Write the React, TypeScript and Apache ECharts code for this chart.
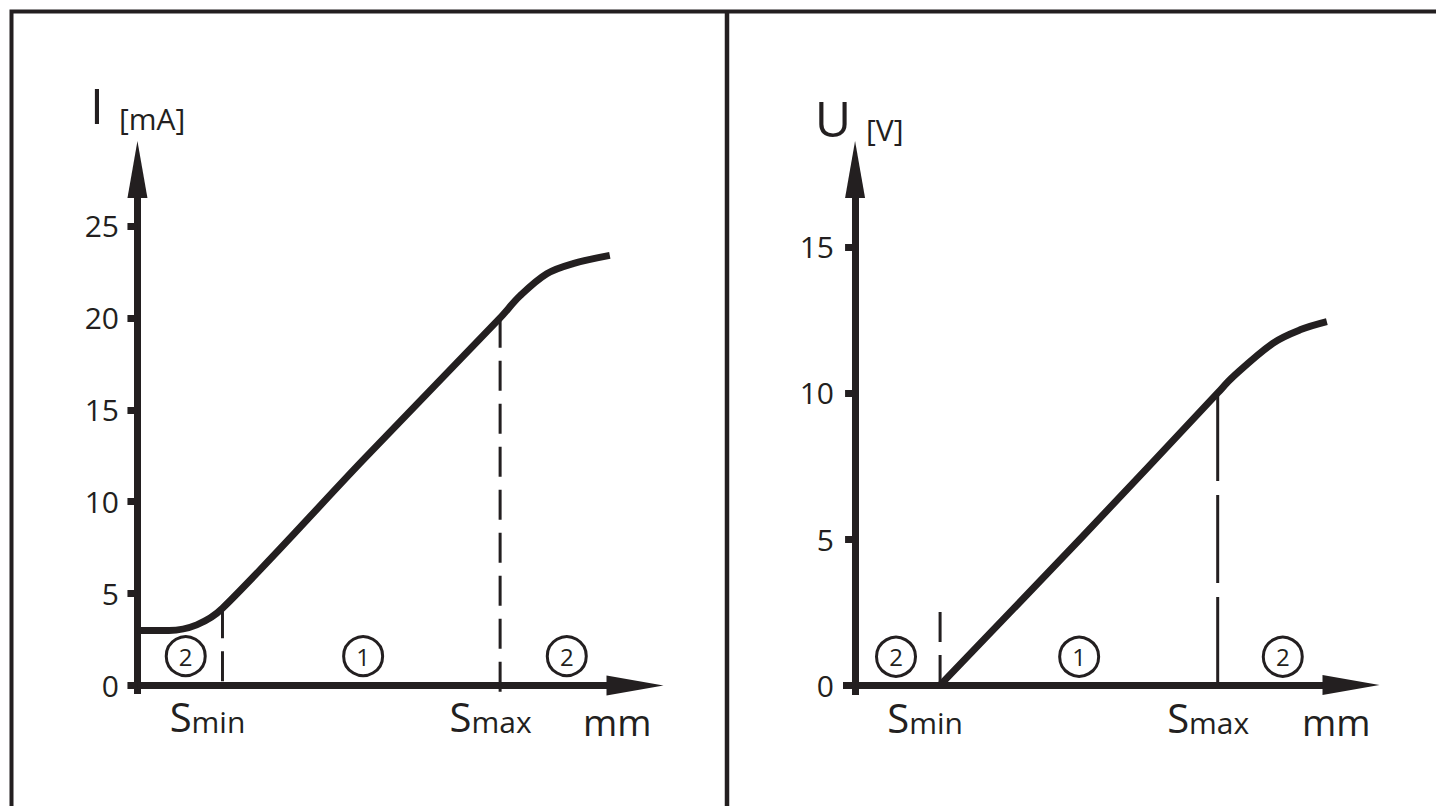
import React, { useEffect, useRef } from "react";
import * as echarts from "echarts";

const INK = "#231f20";
const FONT = "'Open Sans', 'Noto Sans', sans-serif";

// shared switching points on the distance axis (mm, arbitrary units)
const S_MIN = 16.2;
const S_MAX = 69.1;

// tick labels
const currentTicks = [0, 5, 10, 15, 20, 25];
const voltageTicks = [0, 5, 10, 15];

// output curves [distance, value]
const currentCurve = [
  [0, 3.0], [6.0, 3.0], [11.3, 3.3], [16.2, 4.2],
  [43.1, 12.3], [69.1, 20.0],
  [72.9, 21.2], [78.0, 22.4], [83.0, 22.95], [90.0, 23.4],
];
const voltageCurve = [
  [16.2, 0], [42.9, 5.0], [69.1, 10.0],
  [72.0, 10.55], [79.6, 11.7], [84.8, 12.16], [89.9, 12.44],
];

// dashed marker tops
const currentSminTop = 4.2;
const currentSmaxTop = 20.0;
const voltageSminTop = 2.5;
const voltageSmaxTop = 10.0;

// zone markers
const zoneLabels = ["2", "1", "2"];
const currentZoneX = [9.2, 43.0, 81.8];
const currentZoneY = 1.6;
const voltageZoneX = [7.8, 42.7, 81.5];
const voltageZoneY = 0.97;

// axis ranges
const currentRange = { xMin: -1.8, xMax: 94.8, yMin: -0.46, yMax: 28.07 };
const voltageRange = { xMin: -2.3, xMax: 94.5, yMin: -0.34, yMax: 17.65 };

function xAxisDef(idx: number, r: any) {
  return {
    type: "value",
    gridIndex: idx,
    min: r.xMin,
    max: r.xMax,
    axisLine: {
      show: true,
      onZero: true,
      symbol: ["none", "triangle"],
      symbolSize: [20, 57],
      lineStyle: { color: INK, width: 7, cap: "butt" },
    },
    axisTick: { show: false },
    splitLine: { show: false },
    axisLabel: {
      show: true,
      customValues: [S_MIN, S_MAX],
      margin: 2,
      color: INK,
      formatter: (v: number) =>
        Math.abs(v - S_MIN) < 0.01 ? "{s|S}{m|min}{g1| }" : "{s|S}{m|max}{g2| }",
      rich: {
        s: { fontSize: 40, fontFamily: FONT, color: INK, lineHeight: 40, verticalAlign: "bottom" },
        m: { fontSize: 30, fontFamily: FONT, color: INK, lineHeight: 40, verticalAlign: "bottom" },
        g1: { fontSize: 10, width: 30, lineHeight: 40 },
        g2: { fontSize: 10, width: 19, lineHeight: 40 },
      },
    },
  };
}

function yAxisDef(idx: number, r: any, ticks: number[]) {
  return {
    type: "value",
    gridIndex: idx,
    min: r.yMin,
    max: r.yMax,
    axisLine: {
      show: true,
      onZero: true,
      symbol: ["none", "triangle"],
      symbolSize: [20, 57],
      lineStyle: { color: INK, width: 7, cap: "butt" },
    },
    axisTick: {
      show: true,
      customValues: ticks,
      length: 10,
      lineStyle: { color: INK, width: 7 },
    },
    splitLine: { show: false },
    axisLabel: {
      show: true,
      customValues: ticks,
      margin: 9,
      fontSize: 30,
      fontFamily: FONT,
      color: INK,
    },
  };
}

function panelSeries(idx: number, curve: number[][], sminTop: number, smaxTop: number, yMin: number, zoneX: number[], zoneY: number, smaxDash: number[]) {
  return [
    {
      type: "line",
      xAxisIndex: idx,
      yAxisIndex: idx,
      data: [[S_MIN, sminTop], [S_MIN, yMin]],
      symbol: "none",
      lineStyle: { color: INK, width: 3, type: [30, 13] },
      z: 3,
    },
    {
      type: "line",
      xAxisIndex: idx,
      yAxisIndex: idx,
      data: [[S_MAX, smaxTop], [S_MAX, yMin]],
      symbol: "none",
      lineStyle: { color: INK, width: 3, type: smaxDash },
      z: 3,
    },
    {
      type: "line",
      xAxisIndex: idx,
      yAxisIndex: idx,
      data: curve,
      smooth: 0.35,
      symbol: "none",
      lineStyle: { color: INK, width: 7, cap: "butt", join: "round" },
      z: 4,
    },
    {
      type: "scatter",
      xAxisIndex: idx,
      yAxisIndex: idx,
      data: zoneX.map((x, i) => ({ value: [x, zoneY], name: zoneLabels[i] })),
      symbol: "circle",
      symbolSize: 39,
      itemStyle: { color: "#ffffff", borderColor: INK, borderWidth: 3, opacity: 1 },
      label: {
        show: true,
        position: "inside",
        formatter: (p: any) => p.name,
        fontSize: 24,
        fontFamily: FONT,
        color: INK,
      },
      z: 5,
    },
  ];
}

export default function App() {
  const ref = useRef<HTMLDivElement>(null);
  useEffect(() => {
    if (!ref.current) return;
    const chart = echarts.init(ref.current, null, { renderer: "svg" });
    const text = (t: string, x: number, y: number, size: number, align: string) => ({
      type: "text",
      style: { text: t, x, y, fontSize: size, fontFamily: FONT, fill: INK, align, verticalAlign: "middle" },
      z: 10,
    });
    chart.setOption({
      animation: false,
      backgroundColor: "#ffffff",
      grid: [
        { left: 128, right: 801, top: 169.5, bottom: 112 },
        { left: 843, right: 85, top: 169.5, bottom: 111 },
      ],
      xAxis: [xAxisDef(0, currentRange), xAxisDef(1, voltageRange)],
      yAxis: [yAxisDef(0, currentRange, currentTicks), yAxisDef(1, voltageRange, voltageTicks)],
      series: [
        ...panelSeries(0, currentCurve, currentSminTop, currentSmaxTop, currentRange.yMin, currentZoneX, currentZoneY, [30, 13]),
        ...panelSeries(1, voltageCurve, voltageSminTop, voltageSmaxTop, voltageRange.yMin, voltageZoneX, voltageZoneY, [88, 14]),
      ],
      graphic: [
        {
          type: "rect",
          shape: { x: 11.5, y: 11.5, width: 2000, height: 2000 },
          style: { fill: "none", stroke: INK, lineWidth: 4 },
          silent: true,
        },
        {
          type: "line",
          shape: { x1: 727, y1: 11.5, x2: 727, y2: 806 },
          style: { stroke: INK, lineWidth: 4.5 },
          silent: true,
        },
        text("I", 97, 105, 50, "center"),
        text("[mA]", 119, 118, 30, "left"),
        text("U", 833, 118, 50, "center"),
        text("[V]", 866, 129.5, 30, "left"),
        text("mm", 583, 721, 37, "left"),
        text("mm", 1302, 721, 37, "left"),
      ],
    });
    return () => chart.dispose();
  }, []);
  return (
    <div
      ref={ref}
      style={{ position: "fixed", left: 0, top: 0, width: 1436, height: 806, background: "#fff" }}
    />
  );
}
